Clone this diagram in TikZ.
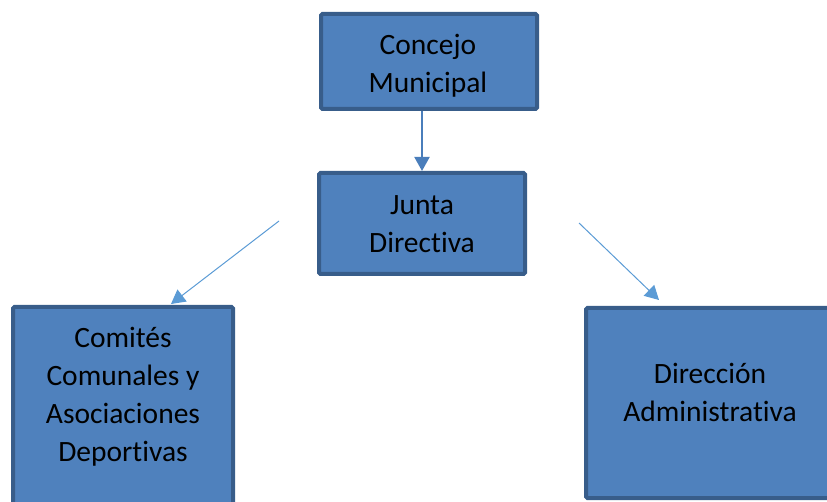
\documentclass[tikz,border=0pt]{standalone}
\usepackage{fontspec}
\setmainfont[Ligatures={NoCommon}]{Carlito}
\usetikzlibrary{arrows.meta}
\definecolor{boxfill}{HTML}{4F81BD}
\definecolor{boxline}{HTML}{385D8A}
\definecolor{arrA}{HTML}{4A7EBB}
\definecolor{arrB}{HTML}{5B9BD5}
\tikzset{
  orgbox/.style={draw=boxline, fill=boxfill, line width=4pt, rounded corners=1.5pt, inner sep=0pt},
  orgtxt/.style={align=center, inner sep=0pt, font=\fontsize{29.5}{38}\selectfont, anchor=base},
  mainarrow/.style={draw=arrA, line width=2pt, -{Triangle[width=15pt,length=14pt]}},
  sidearrow/.style={draw=arrB, line width=1pt, -{Triangle[width=15pt,length=14pt]}}
}
\begin{document}
\begin{tikzpicture}[x=1pt,y=-1pt]
\clip (0,0) rectangle (827,502);
\node[orgbox, minimum width=216pt, minimum height=95pt] (cm) at (429,61.5) {};
\node[orgbox, minimum width=206pt, minimum height=101pt] (jd) at (422,223.5) {};
\node[orgbox, minimum width=220pt, minimum height=213pt] (cc) at (123,413.5) {};
\node[orgbox, minimum width=248pt, minimum height=190pt] (da) at (710,403) {};
\node[orgtxt] (cmt) at (428,93) {Concejo\\Municipal};
\node[orgtxt] (jdt) at (422,253) {Junta\\Directiva};
\node[orgtxt] (cct) at (123,461) {Comités\\Comunales y\\Asociaciones\\Deportivas};
\node[orgtxt] (dat) at (710,421) {Dirección\\Administrativa};
\draw[mainarrow] (cm.south -| jd.north) -- (jd.north);
\coordinate (l0) at (279,221);
\coordinate (l1) at (171,304);
\coordinate (r0) at (579,223);
\coordinate (r1) at (659,300);
\draw[sidearrow] (l0) -- (l1);
\draw[sidearrow] (r0) -- (r1);
\end{tikzpicture}
\end{document}
